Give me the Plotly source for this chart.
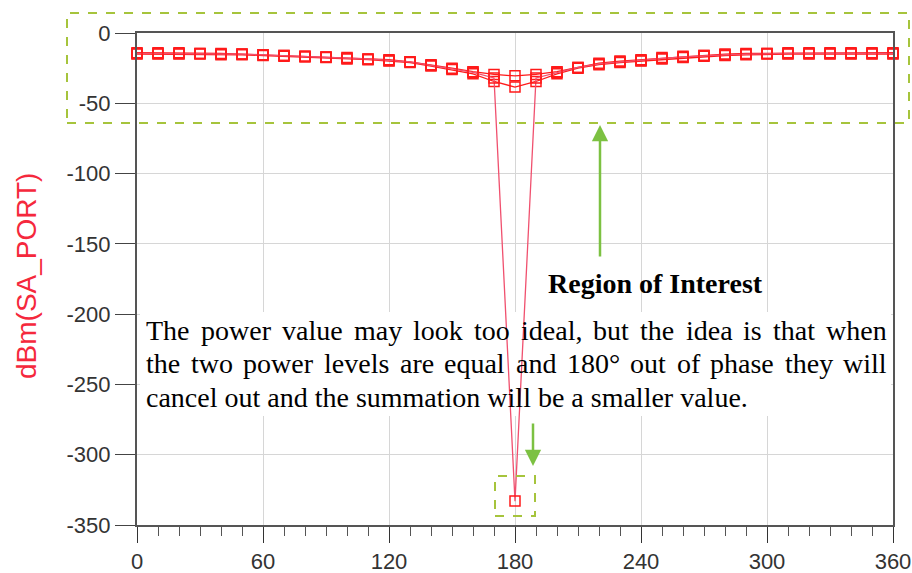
import plotly.graph_objects as go

# ---------------- data ----------------
phase_deg = [0, 10, 20, 30, 40, 50, 60, 70, 80, 90, 100, 110, 120, 130, 140, 150, 160, 170,
             180, 190, 200, 210, 220, 230, 240, 250, 260, 270, 280, 290, 300, 310, 320, 330,
             340, 350, 360]

# equal-amplitude sweep (deep cancellation at 180 deg)
power_equal = [-14.5, -14.5, -14.5, -14.5, -15.0, -15.0, -15.5, -16.0, -16.5, -17.0, -18.0, -18.5,
               -19.5, -20.5, -23.0, -25.5, -28.0, -32.0, -333.0, -32.0, -28.0, -24.5, -22.0, -20.5,
               -19.5, -18.0, -17.0, -16.0, -15.5, -15.0, -14.5, -14.5, -14.5, -14.5, -14.5, -14.5,
               -14.5]
# slightly unequal amplitudes
power_unequal_a = [-14.0, -14.0, -14.0, -14.5, -14.5, -15.0, -15.5, -16.0, -16.5, -17.0, -17.5, -18.5,
                   -19.0, -20.5, -22.5, -25.0, -27.5, -29.5, -30.5, -29.5, -27.5, -24.5, -21.5, -20.0,
                   -19.0, -17.5, -16.5, -16.0, -15.0, -14.5, -14.5, -14.0, -14.0, -14.0, -14.0, -14.0,
                   -14.0]
power_unequal_b = [-15.0, -15.0, -15.0, -15.0, -15.5, -15.5, -16.0, -16.5, -17.0, -17.5, -18.5, -19.0,
                   -20.0, -21.0, -23.5, -26.0, -29.0, -34.5, -38.5, -34.5, -29.0, -25.0, -22.5, -21.0,
                   -20.0, -18.5, -17.5, -16.5, -16.0, -15.5, -15.0, -15.0, -15.0, -15.0, -15.0, -15.0,
                   -15.0]

x_tick_vals = [0, 60, 120, 180, 240, 300, 360]
x_tick_labels = ["0", "60", "120", "180", "240", "300", "360"]
y_tick_vals = [0, -50, -100, -150, -200, -250, -300, -350]
y_tick_labels = ["0", "-50", "-100", "-150", "-200", "-250", "-300", "-350"]

y_title = "dBm(SA_PORT)"
roi_label = "Region of Interest"
note_lines = [
    "The power value may look too ideal, but the idea is that when",
    "the two power levels are equal and 180\u00b0 out of phase they will",
    "cancel out and the summation will be a smaller value.",
]

# ---------------- figure ----------------
# body margin is removed by a post script, so page pixels == figure pixels
W, H = 912, 573
PL, PT, PR, PB = 137, 33, 893, 525          # plot area in pixels
ML, MT, MR, MB = PL, PT, W - PR, H - PB
PW, PH = PR - PL, PB - PT
X0, X1 = 0, 360
Y0, Y1 = -350, 0


def px2x(px):
    return X0 + (px - PL) / PW * (X1 - X0)


def py2y(py):
    return Y1 - (py - PT) / PH * (Y1 - Y0)


def px2paper(px):
    return (px - PL) / PW


def py2paper(py):
    return (PB - py) / PH


fig = go.Figure()
red = "#ff1a1a"
for vals, col in [(power_unequal_a, red), (power_unequal_b, red), (power_equal, "#f0506e")]:
    fig.add_trace(go.Scatter(
        x=phase_deg, y=vals, mode="lines+markers",
        line=dict(color=col, width=1.3),
        marker=dict(symbol="square-open", size=10, color=red, line=dict(width=1.5, color=red)),
        cliponaxis=False, showlegend=False, hoverinfo="x+y"))

axis_font = dict(family="Liberation Sans, Arial, sans-serif", size=22, color="#333333")
fig.update_xaxes(range=[X0, X1], tickvals=x_tick_vals, ticktext=x_tick_labels,
                 ticks="outside", ticklen=16, tickwidth=1, tickcolor="#333333",
                 showline=True, linecolor="#555555", linewidth=1.5, mirror=True,
                 showgrid=True, gridcolor="#d6d6d6", gridwidth=1, zeroline=False,
                 tickfont=axis_font, automargin=False,
                 minor=dict(dtick=10, ticks="outside", ticklen=9, tickcolor="#555555", showgrid=False))
fig.update_yaxes(range=[Y0, Y1], tickvals=y_tick_vals, ticktext=y_tick_labels,
                 ticks="outside", ticklen=20, tickwidth=1, tickcolor="#444444",
                 showline=True, linecolor="#555555", linewidth=2, mirror=True,
                 showgrid=True, gridcolor="#d6d6d6", gridwidth=1, zeroline=False,
                 tickfont=axis_font, automargin=False)

green = "#a6c43c"
arrow_green = "#7cc142"
shapes = [
    # white box behind the note (above grid, below traces)
    dict(type="rect", xref="x", yref="y", x0=px2x(140), x1=px2x(891), y0=py2y(416), y1=py2y(312),
         fillcolor="white", line=dict(width=0), layer="between"),
    # region of interest frame (extends outside the plot)
    dict(type="rect", xref="paper", yref="paper",
         x0=px2paper(67), x1=px2paper(909), y0=py2paper(123), y1=py2paper(13),
         line=dict(color=green, width=2, dash="dash"), layer="above"),
    # small frame around the cancelled point
    dict(type="rect", xref="x", yref="y", x0=px2x(495), x1=px2x(535), y0=py2y(516), y1=py2y(476),
         line=dict(color=green, width=2, dash="dash"), layer="above"),
]
fig.update_layout(shapes=shapes)

annotations = [
    dict(text=y_title, xref="paper", yref="paper", x=px2paper(26), y=py2paper(276),
         textangle=-90, showarrow=False, xanchor="center", yanchor="middle",
         font=dict(family="Liberation Sans, Arial, sans-serif", size=28, color="#f5283c")),
    dict(text="<b>%s</b>" % roi_label, xref="x", yref="y", x=px2x(655), y=py2y(283),
         showarrow=False, xanchor="center", yanchor="middle",
         font=dict(family="Liberation Serif, Times New Roman, serif", size=28, color="black")),
    # arrows
    dict(x=px2x(600), y=py2y(125), ax=px2x(600), ay=py2y(258), xref="x", yref="y",
         axref="x", ayref="y", text="", showarrow=True, arrowhead=2, arrowsize=1.3,
         arrowwidth=2.5, arrowcolor=arrow_green),
    dict(x=px2x(533), y=py2y(466), ax=px2x(533), ay=py2y(422), xref="x", yref="y",
         axref="x", ayref="y", text="", showarrow=True, arrowhead=2, arrowsize=1.3,
         arrowwidth=2.5, arrowcolor=arrow_green),
]

# justified note text (Times metrics used to spread the words across the line)
times_w = {" ": 250, "a": 444, "b": 500, "c": 444, "d": 500, "e": 444, "f": 333, "g": 500, "h": 500,
           "i": 278, "j": 278, "k": 500, "l": 278, "m": 778, "n": 500, "o": 500, "p": 500, "q": 500,
           "r": 333, "s": 389, "t": 278, "u": 500, "v": 500, "w": 722, "x": 500, "y": 500, "z": 444,
           "T": 611, ",": 250, ".": 250, "\u00b0": 400, "0": 500, "1": 500, "8": 500}
FS = 28
note_font = dict(family="Liberation Serif, Times New Roman, serif", size=FS, color="black")
left_px, right_px = 145, 886
line_py = [330, 363, 397]


def word_w(w):
    return sum(times_w.get(c, 500) for c in w) / 1000 * FS


for i, line in enumerate(note_lines):
    yv = py2y(line_py[i])
    words = line.split(" ")
    if i < len(note_lines) - 1:
        total = sum(word_w(w) for w in words)
        gap = (right_px - left_px - total) / (len(words) - 1)
        pos = left_px
        for w in words:
            annotations.append(dict(text=w, xref="x", yref="y", x=px2x(pos), y=yv, showarrow=False,
                                    xanchor="left", yanchor="middle", borderpad=0, font=note_font))
            pos += word_w(w) + gap
    else:
        annotations.append(dict(text=line, xref="x", yref="y", x=px2x(left_px), y=yv, showarrow=False,
                                xanchor="left", yanchor="middle", borderpad=0, font=note_font))

fig.update_layout(annotations=annotations)

fig.update_layout(width=W, height=H, margin=dict(l=ML, r=MR, t=MT, b=MB, autoexpand=False),
                  paper_bgcolor="white", plot_bgcolor="white")

fig.write_html("out.html", config={"displayModeBar": False},
               post_script="document.body.style.margin='0';document.body.style.overflow='hidden';"
                           "document.documentElement.style.overflow='hidden';")
